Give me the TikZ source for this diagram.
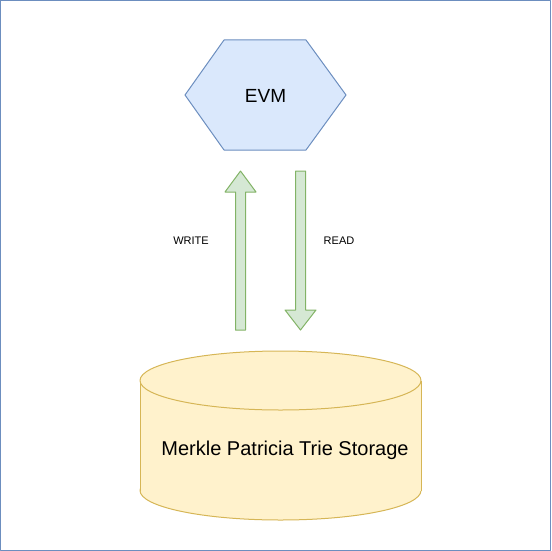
\documentclass[tikz,border=0pt]{standalone}
\usepackage{fontspec}
\setmainfont{Liberation Sans}
\usetikzlibrary{positioning}

\begin{document}
\begin{tikzpicture}[x=1pt,y=-1pt,line join=round]
  % Colors
  \definecolor{evmfill}{HTML}{DAE8FC}
  \definecolor{evmline}{HTML}{6C8EBF}
  \definecolor{flowfill}{HTML}{D5E8D4}
  \definecolor{flowline}{HTML}{82B366}
  \definecolor{storefill}{HTML}{FFF2CC}
  \definecolor{storeline}{HTML}{D6B656}

  % Styles
  \tikzstyle{hexbox}=[draw=evmline,fill=evmfill,line width=1pt]
  \tikzstyle{flow arrow}=[draw=flowline,fill=flowfill,line width=1pt]
  \tikzstyle{store}=[draw=storeline,fill=storefill,line width=1pt]
  \tikzstyle{small text}=[font=\fontsize{11}{13}\selectfont]

  % The graphic
  \useasboundingbox (0,0) rectangle (551,551);
  \draw[evmline,line width=1pt] (0.5,0.5) rectangle (550.5,550.5);

  % EVM
  \draw[style=hexbox] (224,40) -- (306,40) -- (346,95) -- (306,150) -- (224,150) -- (185,95) -- cycle;
  \node[font=\fontsize{19}{22}\selectfont] (evm) at (265.5,96) {EVM};

  % Arrows
  \draw[style=flow arrow] (235.5,330) -- (235.5,192) -- (225,192) -- (240.5,171)
    -- (256,192) -- (245.5,192) -- (245.5,330) -- cycle;
  \draw[style=flow arrow] (295.5,171) -- (295.5,310) -- (285,310) -- (300.5,330)
    -- (316,310) -- (305.5,310) -- (305.5,171) -- cycle;
  \node[style=small text] (write) at (191,241) {WRITE};
  \node[style=small text] (read) at (339,241) {READ};

  % Storage
  \draw[style=store] (280.5,490.5) ellipse [x radius=140.5,y radius=29.5];
  \fill[storefill] (140,380.5) rectangle (421,490.5);
  \draw[storeline,line width=1pt] (140,380.5) -- (140,490.5);
  \draw[storeline,line width=1pt] (421,380.5) -- (421,490.5);
  \draw[style=store] (280.5,380.5) ellipse [x radius=140.5,y radius=29.5];
  \node[font=\fontsize{20}{24}\selectfont] (storage) at (285,450) {Merkle Patricia Trie Storage};
\end{tikzpicture}
\end{document}
